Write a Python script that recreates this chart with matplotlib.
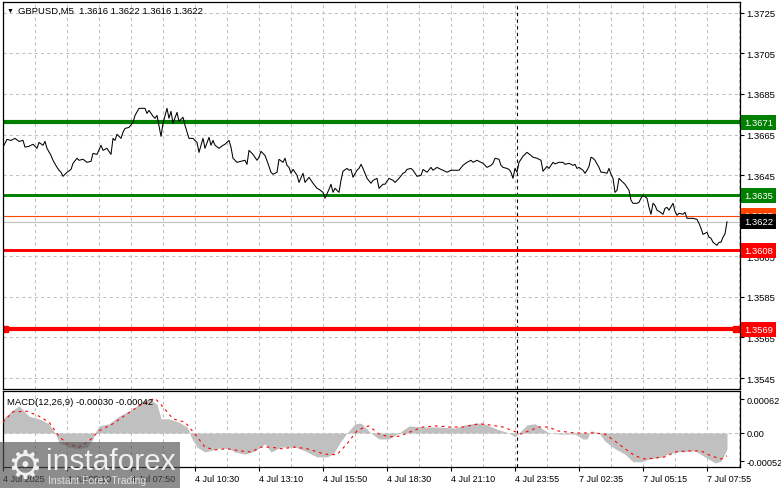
import numpy as np
import matplotlib.pyplot as plt
from matplotlib.patches import Rectangle
from matplotlib.transforms import blended_transform_factory

plt.rcParams['font.family'] = ['Liberation Sans', 'DejaVu Sans']

W, H = 781, 489

# M5 bars counted from 4 Jul 02:30, close price
price_bar = [0, 2, 4, 6, 8, 10, 11, 13, 15, 17, 18, 20, 21, 22, 24, 25, 27, 28, 29, 30,
             32, 34, 35, 37, 38, 40, 42, 44, 45, 47, 49, 50, 52, 54, 55, 56, 57, 59, 60, 61,
             63, 65, 66, 68, 71, 72, 73, 75, 76, 77, 79, 80, 82, 83, 84, 85, 87, 88, 90, 91, 93,
             95, 97, 98, 100, 101, 103, 104, 105, 106, 108, 110, 111, 113, 114, 115, 117, 119, 121, 122, 123,
             125, 127, 128, 129, 131, 133, 134, 135, 137, 138, 140, 141, 142, 143, 144, 145, 147, 148, 150, 151,
             153, 155, 157, 158, 160, 161, 163, 164, 165, 166, 168, 169, 170, 172, 173, 174, 175, 177, 178, 179,
             180, 182, 184,
             185, 187, 188, 190, 191, 193, 195, 196, 198, 200, 201, 202, 204, 205, 207, 209, 210, 212, 214, 215,
             217, 219, 220, 222, 224, 226, 228, 230, 232, 234, 235, 237, 239, 240, 242, 244, 245, 246, 248, 249,
             250, 252, 253, 254, 255, 256, 257, 258, 259, 260, 262, 264, 265, 267, 269, 270, 272, 273, 275, 276,
             278, 280, 281, 283, 285, 286, 287, 288, 290, 291, 292, 293, 294, 295, 296, 298, 299, 300, 302, 303,
             304, 305, 306, 307, 308, 310, 311, 313, 314, 315, 317, 318, 319, 320, 322, 323, 324, 325, 326, 327,
             328, 330, 331, 332, 333, 335, 336, 337, 338, 340, 341, 342, 343, 345, 347, 348, 349, 350, 352, 353,
             354, 355, 357, 358, 359, 360, 361, 362]
price_close = [1.36588, 1.36626, 1.36621, 1.36631, 1.36616, 1.36621, 1.36588, 1.36592, 1.36602, 1.36582,
               1.36611, 1.36597, 1.36616, 1.36582, 1.36547, 1.36523, 1.36488, 1.36474, 1.36464, 1.36444,
               1.36464, 1.36478, 1.36508, 1.36533, 1.36523, 1.36528, 1.36513, 1.36518, 1.36557, 1.36552,
               1.36597, 1.36572, 1.36582, 1.36552, 1.36631, 1.36621, 1.36651, 1.36631, 1.36661, 1.36680,
               1.36685, 1.36710, 1.36744, 1.36779, 1.36779, 1.36754, 1.36769, 1.36740, 1.36730, 1.36744,
               1.36641, 1.36705, 1.36779, 1.36730, 1.36764, 1.36705, 1.36759, 1.36715, 1.36735, 1.36695, 1.36631,
               1.36631, 1.36611, 1.36562, 1.36631, 1.36582, 1.36636, 1.36597, 1.36621, 1.36597, 1.36582,
               1.36597, 1.36602, 1.36621, 1.36587, 1.36533, 1.36513, 1.36518, 1.36523, 1.36503, 1.36572,
               1.36552, 1.36523, 1.36538, 1.36567, 1.36547, 1.36493, 1.36464, 1.36454, 1.36464, 1.36528,
               1.36513, 1.36533, 1.36498, 1.36488, 1.36459, 1.36478, 1.36449, 1.36414, 1.36459, 1.36414,
               1.36439, 1.36410, 1.36385, 1.36380, 1.36365, 1.36336, 1.36380, 1.36405, 1.36365, 1.36385,
               1.36365, 1.36424, 1.36469, 1.36483, 1.36474, 1.36478, 1.36439, 1.36474, 1.36483, 1.36503,
               1.36483, 1.36434, 1.36410,
               1.36424, 1.36434, 1.36385, 1.36405, 1.36405, 1.36434, 1.36424, 1.36414, 1.36434, 1.36459,
               1.36464, 1.36478, 1.36483, 1.36474, 1.36444, 1.36449, 1.36478, 1.36464, 1.36488, 1.36474,
               1.36488, 1.36478, 1.36474, 1.36464, 1.36474, 1.36474, 1.36474, 1.36498, 1.36513, 1.36523,
               1.36513, 1.36523, 1.36513, 1.36508, 1.36488, 1.36498, 1.36508, 1.36533, 1.36528, 1.36498,
               1.36488, 1.36483, 1.36478, 1.36464, 1.36434, 1.36483, 1.36464, 1.36513, 1.36528, 1.36543,
               1.36562, 1.36547, 1.36538, 1.36533, 1.36523, 1.36469, 1.36493, 1.36483, 1.36513, 1.36505,
               1.36513, 1.36513, 1.36503, 1.36508, 1.36498, 1.36503, 1.36483, 1.36488, 1.36474, 1.36459,
               1.36474, 1.36493, 1.36538, 1.36533, 1.36523, 1.36488, 1.36464, 1.36464, 1.36459, 1.36483,
               1.36454, 1.36434, 1.36365, 1.36375, 1.36434, 1.36414, 1.36405, 1.36375, 1.36326, 1.36311,
               1.36311, 1.36316, 1.36336, 1.36350, 1.36336, 1.36291, 1.36257, 1.36311, 1.36301, 1.36277,
               1.36272, 1.36257, 1.36286, 1.36291, 1.36277, 1.36311, 1.36272, 1.36252, 1.36262, 1.36257,
               1.36267, 1.36237, 1.36237, 1.36237, 1.36232, 1.36212, 1.36188, 1.36158, 1.36168, 1.36144,
               1.36139, 1.36119, 1.36104, 1.36119, 1.36119, 1.36144, 1.36160, 1.36220]

# MACD main line (drawn as histogram) and signal line
hist_bar = [0, 4, 8, 13, 18, 23, 26, 28, 33, 38, 42, 45, 46, 48, 53, 58, 65, 70, 73, 77,
            79, 83, 88, 92, 93, 94, 97, 101, 103, 108, 113, 116, 121, 126, 131, 134, 139, 146, 151, 157,
            162, 165, 169, 172, 176, 179, 184, 188, 193, 198, 203, 211, 218, 226, 231, 236, 240, 247, 253, 256,
            258, 262, 266, 270, 273, 278, 286, 290, 292, 294, 298, 301, 306, 311, 315, 319, 323, 330, 332, 337,
            346, 351, 356, 359, 362]
macd_hist = [0.00026, 0.00040, 0.00050, 0.00031, 0.00026, 0.00017, 0.0, -0.00017, -0.00026, -0.00029,
             -0.00026, -0.00011, 0.0, 0.00013, 0.00017, 0.00031, 0.00044, 0.00059, 0.00063, 0.00053,
             0.00026, 0.00026, 0.00020, 0.00011, 0.00004, -0.00007, -0.00026, -0.00035, -0.00033, -0.00028,
             -0.00029, -0.00035, -0.00039, -0.00033, -0.00020, -0.00035, -0.00026, -0.00026, -0.00033, -0.00044,
             -0.00044, -0.00039, -0.00015, 0.0, 0.00017, 0.00018, 0.0, -0.00011, -0.00011, 0.0,
             0.00013, 0.00011, 0.00011, 0.00009, 0.00015, 0.00018, 0.00018, 0.00007, 0.0, -0.00007,
             0.0, 0.00015, 0.00017, 0.00007, 0.0, -0.00002, -0.00002, -0.00011, -0.00011, 0.00004,
             0.0, -0.00015, -0.00029, -0.00039, -0.00053, -0.00053, -0.00048, -0.00044, -0.00039, -0.00035,
             -0.00033, -0.00044, -0.00055, -0.00052, -0.00030]
sig_bar = [0, 5, 12, 18, 23, 28, 32, 38, 43, 48, 55, 62, 68, 76, 80, 85, 91, 96, 101, 106,
           112, 119, 124, 129, 134, 139, 146, 152, 161, 167, 172, 177, 181, 183, 188, 193, 198, 205, 210, 217,
           223, 230, 238, 243, 250, 255, 259, 263, 268, 273, 277, 286, 296, 301, 306, 311, 316, 321, 326, 331,
           336, 342, 349, 354, 359, 362]
macd_signal = [0.00020, 0.00039, 0.00040, 0.00031, 0.00020, -0.00006, -0.00020, -0.00026, -0.00015, 0.00004,
               0.00017, 0.00035, 0.00050, 0.00064, 0.00048, 0.00026, 0.00020, -0.00002, -0.00026, -0.00031,
               -0.00029, -0.00033, -0.00035, -0.00026, -0.00026, -0.00029, -0.00026, -0.00029, -0.00039, -0.00040,
               -0.00020, 0.00004, 0.00011, 0.00013, -0.00002, -0.00007, -0.00006, 0.00004, 0.00011, 0.00013,
               0.00011, 0.00011, 0.00017, 0.00015, 0.00011, 0.00004, -0.00002, 0.00004, 0.00011, 0.00011,
               0.00004, 0.0, 0.0, -0.00002, -0.00015, -0.00029, -0.00042, -0.00048, -0.00046, -0.00044,
               -0.00035, -0.00033, -0.00033, -0.00042, -0.00048, -0.00042]

level_price = [1.3671, 1.3635, 1.3625, 1.3622, 1.3608, 1.3569]
level_color = ['#008000', '#008000', '#FF4500', '#C0C0C0', '#FF0000', '#FF0000']
level_lw = [3.0, 2.1, 0.8, 0.8, 2.1, 3.0]
label_bg = ['#008000', '#008000', '#FF4500', '#000000', '#FF0000', '#FF0000']

price_ticks = [1.3545, 1.3565, 1.3585, 1.3605, 1.3625, 1.3645, 1.3665, 1.3685, 1.3705, 1.3725]
macd_ticks = [-0.00052, 0.0, 0.00062]
macd_tick_text = ['-0.00052', '0.00', '0.00062']
time_bar = [0, 32, 64, 96, 128, 160, 192, 224, 256, 288, 320, 352]
time_text = ['4 Jul 2025', '4 Jul 05:10', '4 Jul 07:50', '4 Jul 10:30', '4 Jul 13:10', '4 Jul 15:50',
             '4 Jul 18:30', '4 Jul 21:10', '4 Jul 23:55', '7 Jul 02:35', '7 Jul 05:15', '7 Jul 07:55']
sep_bar = 257

fig = plt.figure(figsize=(W / 100, H / 100), dpi=100)
ax = fig.add_axes([3 / W, 1 - 390 / H, 737 / W, 387 / H])
ax2 = fig.add_axes([3 / W, 1 - 468 / H, 737 / W, 76 / H])

grid_kw = dict(color='#C0C0C0', lw=0.75, ls=(0, (3, 3)), zorder=0)
for a in (ax, ax2):
    a.set_xlim(0, 368.5)
    for b in range(16, 369, 16):
        a.axvline(b, **grid_kw)
    a.axvline(sep_bar, color='black', lw=0.8, ls=(0, (3, 3)), zorder=1)
    for s in a.spines.values():
        s.set_linewidth(0.9)
    a.yaxis.tick_right()
    a.tick_params(axis='y', length=3, width=0.8, pad=1.5, labelsize=6.8)

# price panel
ax.set_ylim(1.35396, 1.37303)
for p in price_ticks:
    ax.axhline(p, **grid_kw)
for p, c, lw in zip(level_price, level_color, level_lw):
    ax.axhline(p, color=c, lw=lw, zorder=2)
ax.plot([1.2, 366.5], [1.3569, 1.3569], ls='none', marker='s', ms=5, color='red', zorder=2)
ax.plot(price_bar, price_close, color='black', lw=0.75, zorder=3)
ax.set_yticks(price_ticks)
ax.set_yticklabels([f'{p:.4f}' for p in price_ticks])
ax.tick_params(axis='x', bottom=False, labelbottom=False)

trans = blended_transform_factory(ax.transAxes, ax.transData)
for p, bg in zip(level_price, label_bg):
    ax.text(1 + 4 / 737, p, f'{p:.4f}', transform=trans, color='white', fontsize=6.8,
            ha='left', va='center', clip_on=False, zorder=6,
            bbox=dict(boxstyle='square,pad=0.3', fc=bg, ec='none'))

# MACD panel
ax2.set_ylim(-0.000626, 0.000773)
ax2.axhline(0, **grid_kw)
ax2.fill_between(hist_bar, macd_hist, 0, color='#C0C0C0', lw=0, zorder=2)
ax2.plot(sig_bar, macd_signal, color='red', lw=0.8, ls=(0, (2.5, 3.5)), zorder=3)
ax2.set_yticks(macd_ticks)
ax2.set_yticklabels(macd_tick_text)
ax2.tick_params(axis='y', labelsize=6.6)
ax2.set_xticks(time_bar)
ax2.set_xticklabels(time_text)
ax2.tick_params(axis='x', length=3, width=0.8, pad=2, labelsize=6.5)
for lbl in ax2.get_xticklabels():
    lbl.set_ha('left')

fig.text(10 / W, 1 - 11 / H, '\u25bc', fontsize=5, ha='center', va='center')
fig.text(18 / W, 1 - 11 / H, 'GBPUSD,M5  1.3616 1.3622 1.3616 1.3622', fontsize=6.8, va='center')
fig.text(7 / W, 1 - 403 / H, 'MACD(12,26,9) -0.00030 -0.00042', fontsize=6.8, va='center')

# instaforex watermark
fig.add_artist(Rectangle((0, 0), 180 / W, 46 / H, transform=fig.transFigure,
                         facecolor='#505050', alpha=0.65, lw=0, zorder=10))
fig.text(25 / W, 1 - 467 / H, '\u2699', fontsize=28, color='#f0f0f0', ha='center', va='center',
         family='DejaVu Sans', zorder=11)
fig.text(46 / W, 1 - 470 / H, 'instaforex', fontsize=21.5, color='#f0f0f0', ha='left',
         va='baseline', zorder=11)
fig.text(48 / W, 1 - 484 / H, 'Instant Forex Trading', fontsize=7.5, color='#e0e0e0',
         ha='left', va='baseline', zorder=11)

fig.savefig('out.png', dpi=100)
plt.close(fig)
